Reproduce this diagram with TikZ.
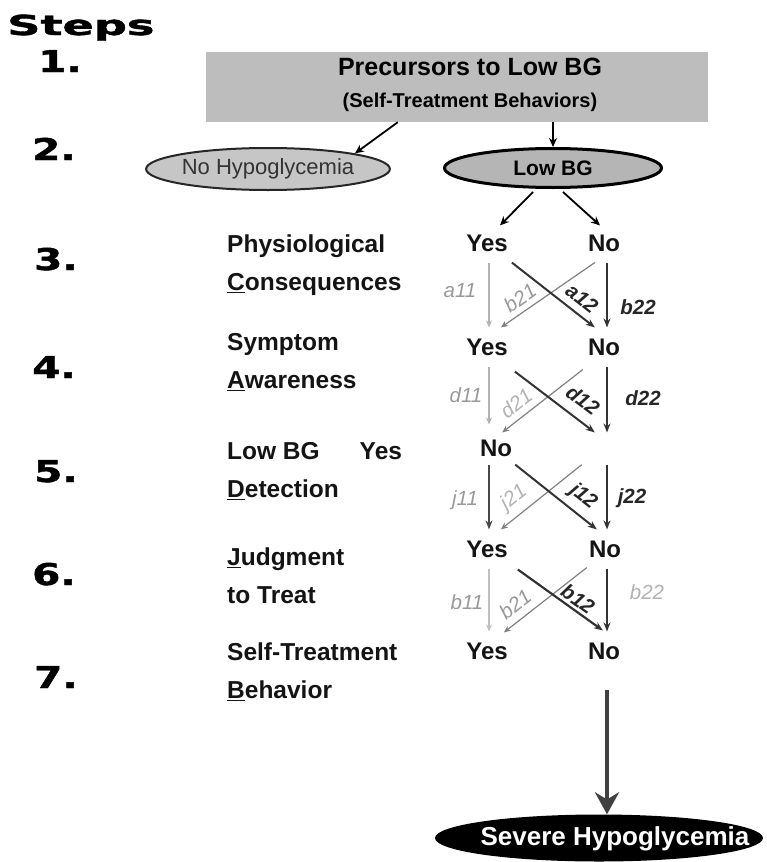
\documentclass[tikz,border=0pt]{standalone}
\usepackage{fontspec}
\usepackage{graphicx}
\setmainfont{Liberation Sans}
\newfontfamily\stepfont{DejaVu Sans}[BoldFeatures={FakeBold=1.3}]
\usetikzlibrary{shapes.geometric,arrows.meta,calc}
\definecolor{rectgrey}{HTML}{BDBDBD}
\definecolor{ellgreyA}{HTML}{C6C6C6}
\definecolor{ellgreyB}{HTML}{B5B5B5}
\begin{document}
\begin{tikzpicture}[x=1pt,y=-1pt,
  yn/.style={font=\fontsize{24}{28}\selectfont\bfseries, inner xsep=0pt, inner ysep=11pt, text=black!92},
  lab/.style={font=\fontsize{24.5}{38}\selectfont\bfseries, align=left, anchor=north west, inner sep=0pt, text=black!92},
  stepno/.style={font=\stepfont\bfseries\fontsize{30}{32}\selectfont, anchor=base west, inner sep=0pt},
  gl/.style={font=\fontsize{20.5}{24}\selectfont\itshape, text=black!40, inner sep=0pt},
  gll/.style={font=\fontsize{20.5}{24}\selectfont\itshape, text=black!30, inner sep=0pt},
  dl/.style={font=\fontsize{20.5}{24}\selectfont\bfseries\itshape, text=black!85, inner sep=0pt},
  arlight/.style={draw=black!30, line width=1.2pt, -{Stealth[length=7pt,width=6pt]}},
  armid/.style={draw=black!50, line width=1.2pt, -{Stealth[length=7pt,width=6pt]}},
  ardark/.style={draw=black!80, line width=2pt, -{Stealth[length=9pt,width=7pt]}},
  blk/.style={draw=black, line width=1.8pt, -{Stealth[length=9pt,width=8pt]}},
  bigar/.style={draw=black!75, line width=4pt, -{Stealth[length=22pt,width=24pt]}}
]
\useasboundingbox (0,0) rectangle (766,862);

% step column
\node[stepno, font=\stepfont\bfseries\fontsize{27.5}{30}\selectfont] (steps) at (7,35) {\scalebox{1.68}[1]{Steps}};
\node[stepno] (s1) at (38,72) {\scalebox{1.35}[1]{1.}};
\node[stepno] (s2) at (32,160) {\scalebox{1.35}[1]{2.}};
\node[stepno] (s3) at (34,270) {\scalebox{1.35}[1]{3.}};
\node[stepno] (s4) at (32,378) {\scalebox{1.35}[1]{4.}};
\node[stepno] (s5) at (34,482) {\scalebox{1.35}[1]{5.}};
\node[stepno] (s6) at (32,585) {\scalebox{1.35}[1]{6.}};
\node[stepno] (s7) at (34,688) {\scalebox{1.35}[1]{7.}};

% top box
\node[fill=rectgrey, minimum width=502pt, minimum height=70pt, inner sep=0pt] (prec) at (457,87) {};
\node[anchor=base, inner sep=0pt, font=\fontsize{25}{28}\selectfont\bfseries] (prect1) at (470,75) {Precursors to Low BG};
\node[anchor=base, inner sep=0pt, font=\fontsize{20}{24}\selectfont\bfseries] (prect2) at (470,107) {(Self-Treatment Behaviors)};

% ellipses
\node[ellipse, draw=black!85, line width=2pt, fill=ellgreyA, minimum width=243pt, minimum height=42pt, inner sep=0pt,
      font=\fontsize{22}{24}\selectfont, text=black!80] (nohypo) at (268,169) {No Hypoglycemia};
\node[ellipse, draw=black, line width=3pt, fill=ellgreyB, minimum width=217pt, minimum height=39pt, inner sep=0pt,
      font=\fontsize{21}{24}\selectfont\bfseries] (lowbg) at (553,168) {Low BG};
\node[ellipse, fill=black, minimum width=328pt, minimum height=47pt, inner sep=0pt] (severe) at (599,838) {};
\node[font=\fontsize{26}{28}\selectfont\bfseries, text=white, inner sep=0pt] (severetxt) at (615,839) {Severe Hypoglycemia};

\draw[blk] ($(prec.south west)+(192,0)$) -- (nohypo.north east);
\draw[blk] (prec.south -| lowbg) -- (lowbg.north);

% left labels
\node[lab] (l3) at (227,235) {Physiological\\\underline{C}onsequences};
\node[lab] (l4) at (227,333) {Symptom\\\underline{A}wareness};
\node[lab] (l5) at (227,442) {Low BG\hspace{40pt}Yes\\\underline{D}etection};
\node[lab] (l6) at (227,548) {\underline{J}udgment\\to Treat};
\node[lab] (l7) at (227,643) {Self-Treatment\\\underline{B}ehavior};

% yes / no grid
\node[yn] (yes3) at (487,243) {Yes};
\node[yn] (no3) at (604,243) {No};
\node[yn] (yes4) at (487,347) {Yes};
\node[yn] (no4) at (604,347) {No};
\node[yn] (c5a) at (496,448) {No};
\node[yn] (c5b) at (604,448) {\phantom{No}};
\node[yn] (yes6) at (487,549) {Yes};
\node[yn] (no6) at (605,549) {No};
\node[yn] (yes7) at (487,651) {Yes};
\node[yn] (no7) at (604,651) {No};

\draw[blk] ($(lowbg.south)+(-20,3)$) -- ($(yes3.north)+(13,2)$);
\draw[blk] ($(lowbg.south)+(10,3)$) -- ($(no3.north)+(-4,2)$);

% row 3 -> 4
\draw[arlight] ($(yes3.south)+(2,0)$) -- ($(yes4.north)+(2,0)$);
\draw[armid] ($(no3.south west)+(7,0)$) -- ($(yes4.north east)+(-7,0)$);
\draw[ardark] ($(yes3.south east)+(4,0)$) -- ($(no4.north west)+(7,0)$);
\draw[ardark] ($(no3.south)+(3,0)$) -- ($(no4.north)+(3,0)$);
\node[gl] (la11) at (460,291) {a11};
\node[gl, rotate=35] (lb21a) at (520,298) {b21};
\node[dl, rotate=-38] (la12) at (582,298) {a12};
\node[dl] (lb22a) at (638,307) {b22};

% row 4 -> 5
\draw[arlight] ($(yes4.south)+(2,0)$) -- ($(c5a.north)+(-7,-4)$);
\draw[armid] ($(no4.south west)+(-5,3)$) -- ($(c5a.north east)+(-10,4)$);
\draw[ardark] ($(yes4.south east)+(7,5)$) -- ($(c5b.north west)+(7,4)$);
\draw[ardark] ($(no4.south)+(3,0)$) -- ($(c5b.north)+(3,4)$);
\node[gl] (ld11) at (466,395) {d11};
\node[gll, rotate=38] (ld21) at (516,403) {d21};
\node[dl, rotate=-37] (ld12) at (583,400) {d12};
\node[dl] (ld22) at (643,398) {d22};

% row 5 -> 6
\draw[ardark, draw=black!72] ($(c5a.south)+(-7,-3)$) -- ($(yes6.north)+(2,0)$);
\draw[armid] ($(c5b.south west)+(-6,-3)$) -- ($(yes6.north east)+(-7,0)$);
\draw[ardark] ($(c5a.south east)+(3,-3)$) -- ($(no6.north west)+(8,0)$);
\draw[ardark] ($(c5b.south)+(3,-3)$) -- ($(no6.north)+(2,0)$);
\node[gl] (lj11) at (465,500) {j11};
\node[gll, rotate=38] (lj21) at (514,498) {j21};
\node[dl, rotate=-38] (lj12) at (583,497) {j12};
\node[dl] (lj22) at (632,498) {j22};

% row 6 -> 7
\draw[arlight, draw=black!25] ($(yes6.south)+(2,0)$) -- ($(yes7.north)+(2,0)$);
\draw[armid] ($(no6.south west)+(-2,-1)$) -- ($(yes7.north east)+(-4,1)$);
\draw[ardark, line width=2.2pt] ($(yes6.south east)+(10,1)$) -- ($(no7.north west)+(15,-1)$);
\draw[ardark] ($(no6.south)+(2,0)$) -- ($(no7.north)+(3,0)$);
\node[gl] (lb11) at (467,602) {b11};
\node[gl, rotate=38] (lb21b) at (515,604) {b21};
\node[dl, rotate=-35] (lb12) at (578,599) {b12};
\node[gll] (lb22b) at (647,592) {b22};

% to severe
\coordinate (bigtop) at ($(no7.south)+(3,19)$);
\draw[bigar] (bigtop) -- (bigtop |- severe.north);
\end{tikzpicture}
\end{document}
